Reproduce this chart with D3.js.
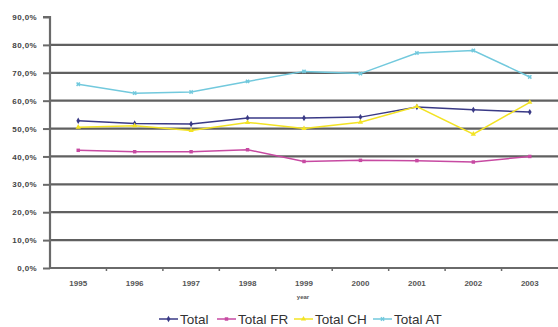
<!DOCTYPE html>
<html>
<head>
<meta charset="utf-8">
<script src="https://cdn.jsdelivr.net/npm/d3@7"></script>
<style>
  html, body { margin: 0; padding: 0; background: #fff; }
  svg { display: block; }
</style>
</head>
<body>
<svg id="chart" width="558" height="327"></svg>
<script>
// Share per year, in percent
const years = ["1995", "1996", "1997", "1998", "1999", "2000", "2001", "2002", "2003"];
const total   = [52.8, 51.8, 51.6, 53.8, 53.8, 54.1, 57.7, 56.7, 55.9];
const totalFR = [42.2, 41.7, 41.7, 42.4, 38.2, 38.6, 38.5, 38.0, 40.0];
const totalCH = [50.5, 51.0, 49.3, 52.2, 50.0, 52.3, 57.9, 48.0, 59.4];
const totalAT = [65.9, 62.7, 63.1, 66.9, 70.5, 69.7, 77.1, 78.0, 68.5];
const yTicks  = [0, 10, 20, 30, 40, 50, 60, 70, 80, 90];
const seriesNames = ["Total", "Total FR", "Total CH", "Total AT"];

const series = [
  { name: seriesNames[0], values: total,   color: "#3a3a86", symbol: d3.symbolDiamond },
  { name: seriesNames[1], values: totalFR, color: "#c74aa2", symbol: d3.symbolSquare },
  { name: seriesNames[2], values: totalCH, color: "#f3e324", symbol: d3.symbolTriangle },
  { name: seriesNames[3], values: totalAT, color: "#72c9dd", symbol: d3.symbolCross }
];

const svg = d3.select("#chart");
const plot = { left: 50, right: 558, top: 17, bottom: 268 };

const x = d3.scaleBand().domain(years).range([plot.left, plot.right]).padding(0);
const y = d3.scaleLinear().domain([0, 90]).range([plot.bottom, plot.top]);

// Horizontal gridlines (none at the top value)
svg.append("g")
  .selectAll("line")
  .data(yTicks.filter(t => t > 0 && t < 90))
  .join("line")
  .attr("x1", plot.left).attr("x2", 558)
  .attr("y1", d => y(d)).attr("y2", d => y(d))
  .attr("stroke", "#606060")
  .attr("stroke-width", 2.2);

// Y axis
const yAxis = d3.axisLeft(y)
  .tickValues(yTicks)
  .tickSize(7)
  .tickFormat(d => d3.format(".1f")(d).replace(".", ",") + "%");
const gy = svg.append("g").attr("transform", `translate(${plot.left},0)`).call(yAxis);
gy.select(".domain").attr("stroke", "#6a6a6a").attr("stroke-width", 2.2)
  .attr("d", `M-7,${y(90)}H0V${plot.bottom}`);
gy.selectAll(".tick line").attr("stroke", "#6a6a6a").attr("stroke-width", 2);
gy.selectAll(".tick text")
  .attr("x", -13)
  .attr("fill", "#444")
  .style("font-family", "'Liberation Sans', Arial, sans-serif")
  .style("font-size", "8px")
  .style("font-weight", "bold")
  .style("letter-spacing", "0.4px");

// X axis with ticks at category boundaries
const gx = svg.append("g").attr("transform", `translate(0,${plot.bottom})`);
gx.append("line")
  .attr("x1", plot.left).attr("x2", plot.right)
  .attr("stroke", "#6a6a6a").attr("stroke-width", 2.2);
gx.selectAll("line.tk")
  .data(years.slice(1))
  .join("line")
  .attr("class", "tk")
  .attr("x1", d => x(d)).attr("x2", d => x(d))
  .attr("y1", 0).attr("y2", 3)
  .attr("stroke", "#6a6a6a").attr("stroke-width", 1.5);
gx.selectAll("text")
  .data(years)
  .join("text")
  .attr("x", d => x(d) + x.bandwidth() / 2)
  .attr("y", 18)
  .attr("text-anchor", "middle")
  .attr("fill", "#555")
  .style("font-family", "'Liberation Sans', Arial, sans-serif")
  .style("font-size", "8px")
  .style("font-weight", "bold")
  .text(d => d);

svg.append("text")
  .attr("x", 303).attr("y", 299)
  .attr("text-anchor", "middle")
  .attr("fill", "#555")
  .style("font-family", "'Liberation Sans', Arial, sans-serif")
  .style("font-size", "6px")
  .style("font-weight", "bold")
  .text("year");

// Series lines and markers
const cx = (d, i) => x(years[i]) + x.bandwidth() / 2;
const markerTransform = (s, px, py) =>
  `translate(${px},${py})${s.symbol === d3.symbolCross ? " rotate(45)" : ""}`;
series.forEach(s => {
  const line = d3.line().x(cx).y(d => y(d));
  const g = svg.append("g");
  g.append("path")
    .attr("d", line(s.values))
    .attr("fill", "none")
    .attr("stroke", s.color)
    .attr("stroke-width", 1.5);
  g.selectAll("path.m")
    .data(s.values)
    .join("path")
    .attr("class", "m")
    .attr("transform", (d, i) => markerTransform(s, cx(d, i), y(d)))
    .attr("d", d3.symbol().type(s.symbol).size(12))
    .attr("fill", s.color);
});

// Legend
const legendX = [159, 217, 294, 373];
const lg = svg.append("g").attr("transform", "translate(0,319)");
series.forEach((s, i) => {
  const g = lg.append("g").attr("transform", `translate(${legendX[i]},0)`);
  g.append("line").attr("x1", 0).attr("x2", 19)
    .attr("stroke", s.color).attr("stroke-width", 1.5);
  g.append("path")
    .attr("transform", markerTransform(s, 9.5, 0))
    .attr("d", d3.symbol().type(s.symbol).size(12))
    .attr("fill", s.color);
  g.append("text")
    .attr("x", 21).attr("y", 5)
    .attr("fill", "#333")
    .style("font-family", "'Liberation Sans', Arial, sans-serif")
    .style("font-size", "13.5px")
    .text(s.name);
});
</script>
</body>
</html>
